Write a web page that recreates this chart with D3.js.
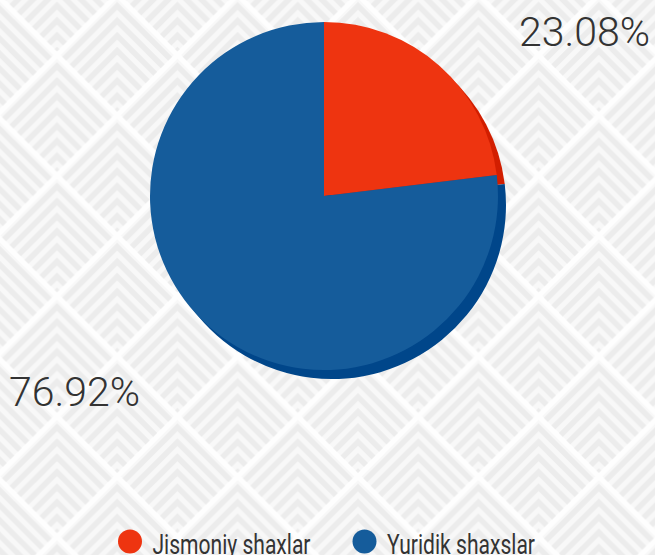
<!DOCTYPE html>
<html>
<head>
<meta charset="utf-8">
<script src="https://cdn.jsdelivr.net/npm/d3@7"></script>
<style>
  html, body { margin: 0; padding: 0; background: #fff; overflow: hidden; }
  svg { display: block; }
</style>
</head>
<body>
<div id="chart"></div>
<script>
// chart data
var categories = ["Jismoniy shaxlar", "Yuridik shaxslar"];
var values = [23.08, 76.92];
var colors = ["#ee3410", "#155c9b"];
var depthColors = ["#d21e00", "#00468a"];

var w = 655,
    h = 555,
    cx = 324,
    cy = 196,
    r = 174;

var svg = d3.select("#chart").append("svg")
      .attr("width", w)
      .attr("height", h);

// background: diamond grid filled with nested chevrons
var d = 60.2;
var defs = svg.append("defs");
var pat = defs.append("pattern")
      .attr("id", "bg")
      .attr("patternUnits", "userSpaceOnUse")
      .attr("x", 57 - d)
      .attr("y", 55)
      .attr("width", 2 * d)
      .attr("height", 2 * d);

pat.append("rect")
  .attr("width", 2 * d)
  .attr("height", 2 * d)
  .attr("fill", "#fefefe");

var centers = [[d, d], [0, 0], [2 * d, 0], [0, 2 * d], [2 * d, 2 * d]];
var gap = 3.5;
centers.forEach((c, i) => {
  var m = d - gap;
  var diamond = [[c[0], c[1] - m], [c[0] + m, c[1]], [c[0], c[1] + m], [c[0] - m, c[1]]];
  var cp = pat.append("clipPath").attr("id", "dm" + i);
  cp.append("polygon").attr("points", diamond.map((p) => p.join(",")).join(" "));
  var g = pat.append("g").attr("clip-path", "url(#dm" + i + ")");
  g.append("polygon")
    .attr("points", diamond.map((p) => p.join(",")).join(" "))
    .attr("fill", "#f8f8f8");
  for (var k = 0; k < 9; k++) {
    var ay = c[1] - d + 11 + k * 15;
    g.append("path")
      .attr("d", "M" + (c[0] - 3 * d) + "," + (ay + 3 * d) + "L" + c[0] + "," + ay + "L" + (c[0] + 3 * d) + "," + (ay + 3 * d))
      .attr("fill", "none")
      .attr("stroke", "#ececec")
      .attr("stroke-width", 5.5);
  }
});

svg.append("rect")
  .attr("width", w)
  .attr("height", h)
  .attr("fill", "url(#bg)");

// pie
var pie = d3.pie().sort(null).value((v) => v);
var arcs = pie(values);
var arc = d3.arc().innerRadius(0).outerRadius(r);

// depth layer
svg.append("g")
  .attr("transform", "translate(" + (cx + 8) + "," + (cy + 9) + ")")
  .selectAll("path")
  .data(arcs)
  .enter().append("path")
  .attr("d", arc)
  .attr("fill", (a, i) => depthColors[i]);

svg.append("g")
  .attr("transform", "translate(" + cx + "," + cy + ")")
  .selectAll("path")
  .data(arcs)
  .enter().append("path")
  .attr("d", arc)
  .attr("fill", (a, i) => colors[i]);

// percentage labels
var fmt = (v) => v.toFixed(2) + "%";
var labelPos = [
  { x: 650, y: 46, anchor: "end" },
  { x: 9, y: 406, anchor: "start" }
];
svg.append("g")
  .selectAll("text")
  .data(values)
  .enter().append("text")
  .attr("x", (v, i) => labelPos[i].x)
  .attr("y", (v, i) => labelPos[i].y)
  .attr("text-anchor", (v, i) => labelPos[i].anchor)
  .attr("font-family", "Roboto, sans-serif")
  .attr("font-weight", 300)
  .attr("font-size", 41)
  .attr("fill", "#333")
  .text(fmt);

// legend
var legendX = [130, 364.5];
var legendW = [158, 148];
var legend = svg.append("g")
  .selectAll("g")
  .data(categories)
  .enter().append("g")
  .attr("transform", (c, i) => "translate(" + legendX[i] + ",541.5)");

legend.append("circle")
  .attr("r", 12)
  .attr("fill", (c, i) => colors[i]);

legend.append("text")
  .attr("x", 22.5)
  .attr("y", 12)
  .attr("font-family", "Roboto, sans-serif")
  .attr("font-size", 28)
  .attr("fill", "#333")
  .attr("textLength", (c, i) => legendW[i])
  .attr("lengthAdjust", "spacingAndGlyphs")
  .text((c) => c);
</script>
</body>
</html>
